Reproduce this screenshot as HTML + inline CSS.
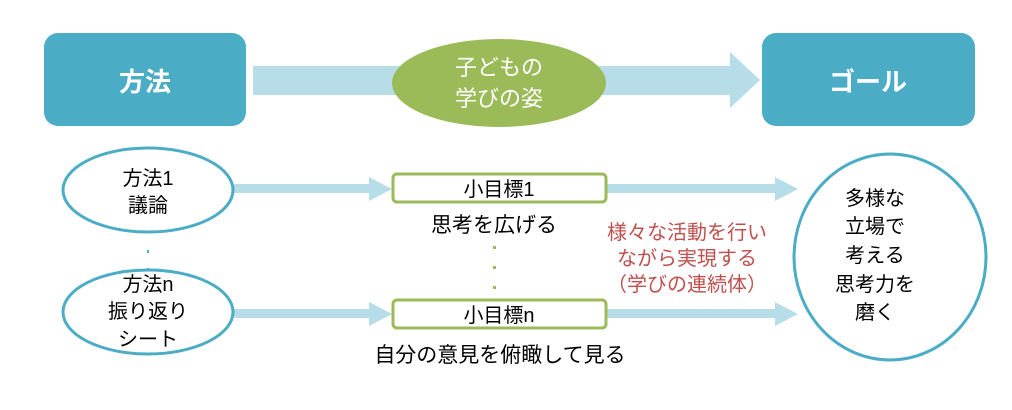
<!DOCTYPE html>
<html><head><meta charset="utf-8"><style>
body{margin:0;background:#fff;width:1012px;height:405px;overflow:hidden}
svg text{font-family:"Liberation Sans","Noto Sans CJK JP",sans-serif}
</style></head><body>
<svg width="1012" height="405" viewBox="0 0 1012 405">
<polygon points="253,66 730,66 730,52 760,80 730,108 730,95 253,95" fill="#b7dde8"/>
<rect x="44" y="33" width="202" height="93" rx="14" fill="#4bacc6"/>
<rect x="762" y="33" width="213" height="93" rx="14" fill="#4bacc6"/>
<ellipse cx="499" cy="83" rx="107" ry="44" fill="#9bbb59"/>
<text x="145" y="91" font-size="26" font-weight="bold" fill="#fff" text-anchor="middle">方法</text>
<text x="868" y="91" font-size="26" font-weight="bold" fill="#fff" text-anchor="middle">ゴール</text>
<text x="499" y="75" font-size="22" fill="#fff" text-anchor="middle">子どもの</text>
<text x="499" y="106" font-size="22" fill="#fff" text-anchor="middle">学びの姿</text>
<g fill="#b7dde8">
<polygon points="234,184 369,184 369,177 392,189 369,201 369,193 234,193"/>
<polygon points="234,309 369,309 369,302 392,314 369,326 369,318 234,318"/>
<polygon points="606,184 775,184 775,177 798,189 775,201 775,193 606,193"/>
<polygon points="606,309 775,309 775,302 798,314 775,326 775,318 606,318"/>
</g>
<ellipse cx="148" cy="190" rx="85" ry="42" fill="#fff" stroke="#4bacc6" stroke-width="3"/>
<ellipse cx="148" cy="312" rx="85" ry="42" fill="#fff" stroke="#4bacc6" stroke-width="3"/>
<ellipse cx="890" cy="257" rx="96" ry="103" fill="#fff" stroke="#4bacc6" stroke-width="3"/>
<rect x="393" y="174" width="213" height="28" rx="4" fill="#fff" stroke="#9bbb59" stroke-width="3"/>
<rect x="393" y="300" width="213" height="28" rx="4" fill="#fff" stroke="#9bbb59" stroke-width="3"/>
<g font-size="20" fill="#000" text-anchor="middle">
<text x="148" y="185">方法1</text>
<text x="148" y="212">議論</text>
<text x="148" y="291">方法n</text>
<text x="148" y="318">振り返り</text>
<text x="148" y="346">シート</text>
<text x="499" y="196">小目標1</text>
<text x="499" y="322">小目標n</text>
<text x="494" y="232" font-size="21">思考を広げる</text>
<text x="500" y="362" font-size="21">自分の意見を俯瞰して見る</text>
<text x="875" y="205">多様な</text>
<text x="875" y="233">立場で</text>
<text x="875" y="262">考える</text>
<text x="875" y="291">思考力を</text>
<text x="875" y="319">磨く</text>
</g>
<g font-size="20" fill="#c0504d" text-anchor="middle">
<text x="687" y="239">様々な活動を行い</text>
<text x="687" y="265">ながら実現する</text>
<text x="687" y="291">（学びの連続体）</text>
</g>
<g fill="#9bbb59"><rect x="493" y="246" width="3" height="3"/><rect x="493" y="266" width="3" height="3"/><rect x="493" y="286" width="3" height="3"/></g>
<g fill="#4bacc6"><rect x="147" y="250" width="2" height="3"/><rect x="147" y="268" width="2" height="3"/></g>
</svg>
</body></html>
